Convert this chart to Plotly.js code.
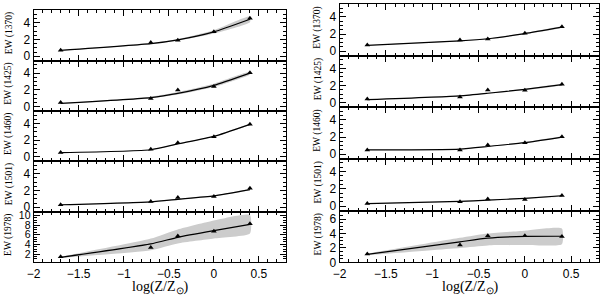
<!DOCTYPE html>
<html>
<head>
<meta charset="utf-8">
<script src="https://cdn.plot.ly/plotly-3.0.1.min.js"></script>
<style>html,body{margin:0;padding:0;background:#fff;}#chart{width:600px;height:295px;}</style>
</head>
<body>
<div id="chart"></div>
<script>
// x positions: log(Z/Zsun)
const logZ = [-1.7, -0.7, -0.4, 0, 0.4];
const lineNames = ["EW (1370)", "EW (1425)", "EW (1460)", "EW (1501)", "EW (1978)"];

// ---- Left column ----
const obsL1370 = [0.72, 1.64, 1.92, 2.92, 4.52];
const modL1370 = [0.70, 1.50, 1.95, 2.90, 4.40];
const upL1370  = [0.74, 1.56, 2.05, 3.10, 4.75];
const loL1370  = [0.66, 1.44, 1.85, 2.70, 4.05];

const obsL1425 = [0.52, 0.98, 2.00, 2.40, 4.05];
const modL1425 = [0.40, 1.10, 1.60, 2.55, 4.00];
const upL1425  = [0.44, 1.20, 1.75, 2.75, 4.15];
const loL1425  = [0.36, 1.00, 1.45, 2.35, 3.85];

const obsL1460 = [0.52, 0.90, 1.70, 2.40, 3.92];
const modL1460 = [0.50, 0.85, 1.55, 2.45, 3.90];
const upL1460  = [0.52, 0.88, 1.60, 2.50, 3.95];
const loL1460  = [0.48, 0.82, 1.50, 2.40, 3.85];

const obsL1501 = [0.30, 0.70, 1.16, 1.28, 2.25];
const modL1501 = [0.30, 0.65, 0.95, 1.35, 2.10];
const upL1501  = [0.32, 0.68, 1.00, 1.40, 2.15];
const loL1501  = [0.28, 0.62, 0.90, 1.30, 2.05];

const obsL1978 = [1.45, 3.37, 5.74, 6.70, 8.27];
const modL1978 = [1.32, 4.10, 5.47, 6.84, 8.13];
const upL1978  = [1.45, 5.20, 7.10, 8.95, 10.10];
const loL1978  = [1.20, 2.80, 4.19, 5.20, 6.23];

// ---- Right column ----
const obsR1370 = [0.72, 1.30, 1.42, 2.08, 2.86];
const modR1370 = [0.68, 1.20, 1.45, 2.05, 2.80];
const upR1370  = [0.70, 1.24, 1.50, 2.12, 2.88];
const loR1370  = [0.66, 1.16, 1.40, 1.98, 2.72];

const obsR1425 = [0.43, 0.66, 1.48, 1.45, 2.14];
const modR1425 = [0.35, 0.80, 1.10, 1.55, 2.10];
const upR1425  = [0.37, 0.85, 1.16, 1.62, 2.16];
const loR1425  = [0.33, 0.75, 1.04, 1.48, 2.04];

const obsR1460 = [0.50, 0.50, 1.07, 1.34, 2.04];
const modR1460 = [0.50, 0.60, 0.90, 1.35, 2.00];
const upR1460  = [0.52, 0.63, 0.94, 1.40, 2.05];
const loR1460  = [0.48, 0.57, 0.86, 1.30, 1.95];

const obsR1501 = [0.30, 0.52, 0.84, 0.76, 1.22];
const modR1501 = [0.30, 0.55, 0.70, 0.90, 1.20];
const upR1501  = [0.32, 0.58, 0.74, 0.94, 1.25];
const loR1501  = [0.28, 0.52, 0.66, 0.86, 1.15];

const obsR1978 = [1.15, 2.40, 3.70, 3.70, 3.60];
const modR1978 = [1.10, 2.85, 3.35, 3.60, 3.62];
const upR1978  = [1.20, 3.40, 4.00, 4.40, 4.70];
const loR1978  = [1.00, 2.00, 2.35, 2.40, 2.50];

// y ranges per panel
const yRangeL = [[-0.5, 5.5], [-0.5, 5.5], [-0.5, 5.5], [-0.5, 5.5], [0.3, 10.8]];
const yRangeR = [[-0.5, 5.5], [-0.5, 5.5], [-0.5, 5.5], [-0.5, 5.5], [0, 7.2]];
const yFontL = [12, 12, 12, 12, 10.5];
const yFontR = [12, 12, 12, 12, 12];

const panelsL = [
  [obsL1370, modL1370, upL1370, loL1370],
  [obsL1425, modL1425, upL1425, loL1425],
  [obsL1460, modL1460, upL1460, loL1460],
  [obsL1501, modL1501, upL1501, loL1501],
  [obsL1978, modL1978, upL1978, loL1978]
];
const panelsR = [
  [obsR1370, modR1370, upR1370, loR1370],
  [obsR1425, modR1425, upR1425, loR1425],
  [obsR1460, modR1460, upR1460, loR1460],
  [obsR1501, modR1501, upR1501, loR1501],
  [obsR1978, modR1978, upR1978, loR1978]
];

// ---- geometry (pixels) ----
const W = 600, H = 295;
const colX = [[33.6, 286], [339.5, 599]];
const rowsL = [10, 60.5, 111, 161, 211.5, 262.3];
const rowsR = [4, 55.5, 107, 158.5, 210.5, 262.3];

const traces = [];
const layout = {
  width: W, height: H,
  margin: {l: 0, r: 0, t: 0, b: 0},
  paper_bgcolor: "#fff", plot_bgcolor: "#fff",
  showlegend: false,
  font: {family: "Liberation Sans, Arial, sans-serif", size: 12, color: "#000"},
  annotations: []
};

function addPanel(idx, col, row, data, yr, rows, yfs) {
  const xa = "x" + (idx === 1 ? "" : idx), ya = "y" + (idx === 1 ? "" : idx);
  const xk = "xaxis" + (idx === 1 ? "" : idx), yk = "yaxis" + (idx === 1 ? "" : idx);
  const [obs, mod, up, lo] = data;
  traces.push({
    x: logZ.concat(logZ.slice().reverse()),
    y: up.concat(lo.slice().reverse()),
    xaxis: xa, yaxis: ya, type: "scatter", mode: "lines",
    fill: "toself", fillcolor: "rgb(204,204,204)",
    line: {width: 0, color: "rgba(0,0,0,0)", shape: "spline", smoothing: 0.5},
    hoverinfo: "skip"
  });
  traces.push({
    x: logZ, y: mod, xaxis: xa, yaxis: ya, type: "scatter", mode: "lines",
    line: {color: "#000", width: 1.2, shape: "spline", smoothing: 0.5}
  });
  traces.push({
    x: logZ, y: obs, xaxis: xa, yaxis: ya, type: "scatter", mode: "markers",
    marker: {symbol: "triangle-up", size: 5, color: "#000"}
  });
  const top = rows[row], bot = rows[row + 1];
  const bottomPanel = (row === 4);
  layout[xk] = {
    domain: [colX[col][0] / W, colX[col][1] / W],
    anchor: ya, range: [-2, 0.8], tick0: 0, dtick: 0.5,
    ticks: "inside", ticklen: 6, tickwidth: 1, tickcolor: "#000",
    minor: {dtick: 0.1, ticks: "inside", ticklen: 3, tickcolor: "#000", showgrid: false},
    showline: true, linecolor: "#000", linewidth: 1, mirror: "ticks",
    showgrid: false, zeroline: false,
    showticklabels: bottomPanel,
    tickfont: {size: 12, family: "Liberation Sans, Arial, sans-serif"}
  };
  layout[yk] = {
    domain: [1 - bot / H, 1 - top / H],
    anchor: xa, range: yr, tick0: 0, dtick: 2,
    ticks: "inside", ticklen: 6, tickwidth: 1, tickcolor: "#000",
    minor: {dtick: 0.5, ticks: "inside", ticklen: 3, tickcolor: "#000", showgrid: false},
    showline: true, linecolor: "#000", linewidth: 1, mirror: "ticks",
    showgrid: false, zeroline: false,
    tickfont: {size: yfs, family: "Liberation Sans, Arial, sans-serif"}
  };
  layout.annotations.push({
    xref: "paper", yref: "paper",
    x: (col === 0 ? 9 : 318) / W, y: 1 - ((top + bot) / 2 - 2) / H,
    text: lineNames[row], textangle: -90, showarrow: false,
    xanchor: "center", yanchor: "middle",
    font: {family: "Liberation Serif, serif", size: 9.5, color: "#000"}
  });
}

let n = 1;
for (let r = 0; r < 5; r++) { addPanel(n++, 0, r, panelsL[r], yRangeL[r], rowsL, yFontL[r]); }
for (let r = 0; r < 5; r++) { addPanel(n++, 1, r, panelsR[r], yRangeR[r], rowsR, yFontR[r]); }

[160, 470].forEach(function (cx) {
  layout.annotations.push({
    xref: "paper", yref: "paper", x: cx / W, y: 1 - 287 / H,
    text: "log(Z/Z<sub>⊙</sub>)", showarrow: false,
    xanchor: "center", yanchor: "middle",
    font: {family: "Liberation Serif, serif", size: 14, color: "#000"}
  });
});

Plotly.newPlot("chart", traces, layout, {staticPlot: true, displayModeBar: false});
</script>
</body>
</html>
